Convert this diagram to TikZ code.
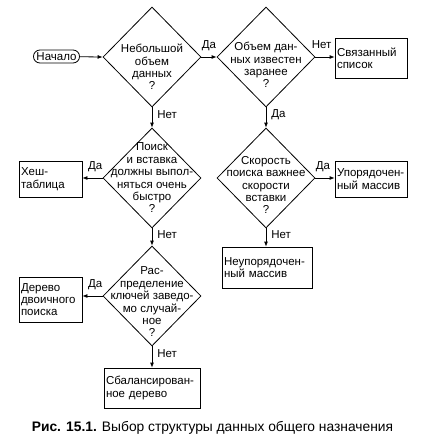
\documentclass[tikz,border=0pt]{standalone}
\usepackage{fontspec}
\setmainfont{Liberation Sans}
\usetikzlibrary{shapes.geometric, arrows.meta, positioning}
\newcommand{\flowfont}{\fontsize{11.5pt}{12.4pt}\selectfont}

\begin{document}
\begin{tikzpicture}[
                    x=1pt, y=-1pt,
                    decision/.style={diamond, draw, line width=0.8pt, minimum width=98pt, minimum height=100pt, inner sep=0pt},
                    qtext/.style={font=\flowfont, align=center, inner sep=0pt},
                    block/.style={font=\flowfont, rectangle, draw, line width=0.8pt, align=left, inner xsep=2pt, inner ysep=1pt},
                    terminal/.style={font=\flowfont, rectangle, draw, rounded corners=6.5pt, line width=0.8pt, minimum height=13pt, inner xsep=3pt, inner ysep=0.5pt},
                    flow/.style={draw, line width=0.8pt, -{Latex[length=5pt, width=4pt]}},
                    labr/.style={font=\flowfont, anchor=base west, inner sep=0pt, yshift=8.5pt},
                    labl/.style={font=\flowfont, anchor=base east, inner sep=0pt, yshift=8.5pt},
                    labv/.style={font=\flowfont, anchor=west, inner sep=0pt, xshift=5pt},
                ]
                \useasboundingbox (0,0) rectangle (421,447);
                % first row
                \node[terminal] (begin) at (56.5,56.5) {Начало};
                \node[decision] (small) at (152,57) {};
                \node[qtext] (smallt) at ([yshift=-10pt]small.center) {Небольшой\\объем\\данных\\?};
                \node[decision] (known) at (266,57) {};
                \node[qtext] (knownt) at ([yshift=-8pt]known.center) {Объем дан-\\ных известен\\заранее\\?};
                \node[block, text width=68pt, minimum height=40pt] (linked) at (371,58) {Связанный\\список};
                % second row
                \node[decision] (fast) at (152,178) {};
                \node[qtext] (fastt) at (fast.center) {Поиск\\и вставка\\должны выпол-\\няться очень\\быстро\\?};
                \node[block, text width=59pt, minimum height=36pt] (hash) at (50.5,179) {Хеш-\\таблица};
                \node[decision] (speed) at (266,178) {};
                \node[qtext] (speedt) at ([yshift=-7pt]speed.center) {Скорость\\поиска важнее\\скорости\\вставки\\?};
                \node[block, text width=68pt, minimum height=36pt] (sorted) at (371,179) {Упорядочен-\\ный массив};
                % third row
                \node[block, text width=86pt, minimum height=41pt] (unsorted) at (267,267.5) {Неупорядочен-\\ный массив};
                \node[decision] (random) at (152,296) {};
                \node[qtext] (randomt) at ([yshift=-6pt]random.center) {Рас-\\пределение\\ключей заведо-\\мо случай-\\ное\\?};
                \node[block, text width=59pt, minimum height=45pt] (tree) at (50.5,299.5) {Дерево\\двоичного\\поиска};
                \node[block, text width=92pt, minimum height=40pt] (balanced) at (152,388) {Сбалансирован-\\ное дерево};
                \node[font=\fontsize{13.8pt}{16pt}\selectfont] (caption) at (212.5,428) {\textbf{Рис. 15.1.} Выбор структуры данных общего назначения};
                % connectors
                \draw[flow] (begin) -- (small.west);
                \draw[flow] (small.east) -- node[labr, pos=0] {Да} (known.west);
                \draw[flow] (known.east) -- node[labr, pos=0, xshift=-4pt] {Нет} (known.east -| linked.west);
                \draw[flow] (small.south) -- node[labv, pos=0.35] {Нет} (fast.north);
                \draw[flow] (known.south) -- node[labv, pos=0.35] {Да} (speed.north);
                \draw[flow] (fast.west) -- node[labl, pos=0] {Да} (fast.west -| hash.east);
                \draw[flow] (speed.east) -- node[labr, pos=0] {Да} (speed.east -| sorted.west);
                \draw[flow] (fast.south) -- node[labv, pos=0.35] {Нет} (random.north);
                \draw[flow] (speed.south) -- node[labv, pos=0.35] {Нет} (speed.south |- unsorted.north);
                \draw[flow] (random.west) -- node[labl, pos=0] {Да} (random.west -| tree.east);
                \draw[flow] (random.south) -- node[labv, pos=0.35] {Нет} (balanced.north);
                \end{tikzpicture}
\end{document}
